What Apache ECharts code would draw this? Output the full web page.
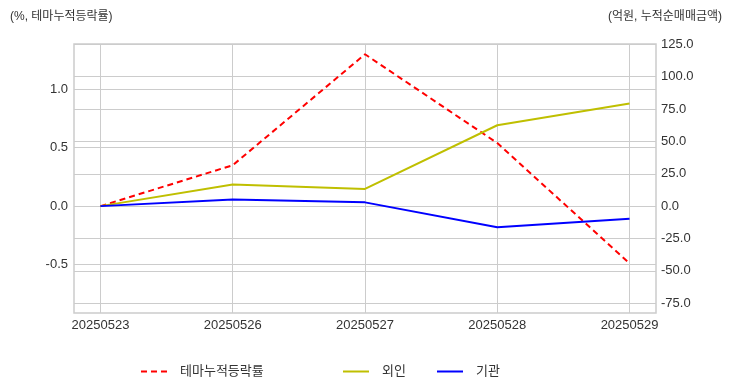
<!DOCTYPE html>
<html><head><meta charset="utf-8">
<script src="https://cdn.jsdelivr.net/npm/echarts@6/dist/echarts.min.js"></script>
<style>html,body{margin:0;padding:0;background:#fff}#c{width:732px;height:392px}</style>
</head><body><div id="c"></div>
<script>
const dates = ['20250523','20250526','20250527','20250528','20250529'];
const themeReturn = [0, 0.35, 1.30, 0.54, -0.49];
const foreign = [0, 16.7, 13.3, 62.5, 79.3];
const institution = [0, 5.2, 2.9, -16.4, -9.8];
const leftTicks = [-0.5, 0, 0.5, 1.0];
const rightTicks = [-75, -50, -25, 0, 25, 50, 75, 100, 125];
const xTicks = [0, 1, 2, 3, 4];
const names = ['테마누적등락률', '외인', '기관'];

const FONT = 'Liberation Sans, "Noto Sans CJK KR", sans-serif';
const GRID_COLOR = '#cccccc';
const toPairs = arr => arr.map((v, i) => [i, v]);
const gridLine = {silent: true, symbol: 'none', label: {show: false},
  lineStyle: {color: GRID_COLOR, width: 1, type: 'solid'}, emphasis: {disabled: true}, animation: false};
const legendBase = {top: 360, itemWidth: 26, itemHeight: 14, itemStyle: {opacity: 0},
  textStyle: {fontSize: 13, color: '#333', padding: [0, 0, 0, 8]}};

const chart = echarts.init(document.getElementById('c'), null, {renderer: 'canvas'});
chart.setOption({
  animation: false,
  textStyle: {fontFamily: FONT},
  title: [
    {text: '(%, 테마누적등락률)', left: 5, top: 6, textStyle: {fontSize: 12, fontWeight: 'normal', color: '#333', fontFamily: FONT}},
    {text: '(억원, 누적순매매금액)', right: 5, top: 6, textStyle: {fontSize: 12, fontWeight: 'normal', color: '#333', fontFamily: FONT}}
  ],
  grid: {left: 74, right: 76, top: 44, bottom: 79, show: true, borderColor: GRID_COLOR, borderWidth: 1.5, containLabel: false},
  legend: [
    Object.assign({data: [names[0]], left: 135}, legendBase),
    Object.assign({data: [names[1]], left: 337}, legendBase),
    Object.assign({data: [names[2]], left: 431}, legendBase)
  ],
  xAxis: {
    type: 'value', min: -0.2, max: 4.2,
    axisLine: {show: false}, axisTick: {show: false}, splitLine: {show: false},
    axisLabel: {customValues: xTicks, formatter: v => dates[Math.round(v)] || '', fontSize: 13, color: '#333', margin: 6}
  },
  yAxis: [
    {type: 'value', min: -0.915, max: 1.388, position: 'left',
      axisLine: {show: false}, axisTick: {show: false}, splitLine: {show: false},
      axisLabel: {customValues: leftTicks, formatter: v => v.toFixed(1), fontSize: 13, color: '#333', margin: 6}},
    {type: 'value', min: -82.6, max: 125.3, position: 'right',
      axisLine: {show: false}, axisTick: {show: false}, splitLine: {show: false},
      axisLabel: {customValues: rightTicks, formatter: v => v.toFixed(1), fontSize: 13, color: '#333', margin: 5}}
  ],
  series: [
    {type: 'line', name: '_gl', yAxisIndex: 0, data: toPairs(themeReturn), z: 1, symbol: 'none', lineStyle: {opacity: 0}, silent: true,
      markLine: Object.assign({data: leftTicks.map(v => ({yAxis: v}))}, gridLine)},
    {type: 'line', name: '_gr', yAxisIndex: 1, data: toPairs(foreign), z: 1, symbol: 'none', lineStyle: {opacity: 0}, silent: true,
      markLine: Object.assign({data: rightTicks.map(v => ({yAxis: v}))}, gridLine)},
    {type: 'line', name: '_gx', yAxisIndex: 1, data: toPairs(foreign), z: 1, symbol: 'none', lineStyle: {opacity: 0}, silent: true,
      markLine: Object.assign({data: xTicks.map(v => ({xAxis: v}))}, gridLine)},
    {type: 'line', name: names[0], yAxisIndex: 0, data: toPairs(themeReturn), z: 5, symbol: 'none',
      lineStyle: {color: '#ff0000', width: 2, type: [6, 4]}, itemStyle: {color: '#ff0000'}},
    {type: 'line', name: names[1], yAxisIndex: 1, data: toPairs(foreign), z: 5, symbol: 'none',
      lineStyle: {color: '#bfbf00', width: 2}, itemStyle: {color: '#bfbf00'}},
    {type: 'line', name: names[2], yAxisIndex: 1, data: toPairs(institution), z: 5, symbol: 'none',
      lineStyle: {color: '#0000ff', width: 2}, itemStyle: {color: '#0000ff'}}
  ]
});
</script></body></html>
